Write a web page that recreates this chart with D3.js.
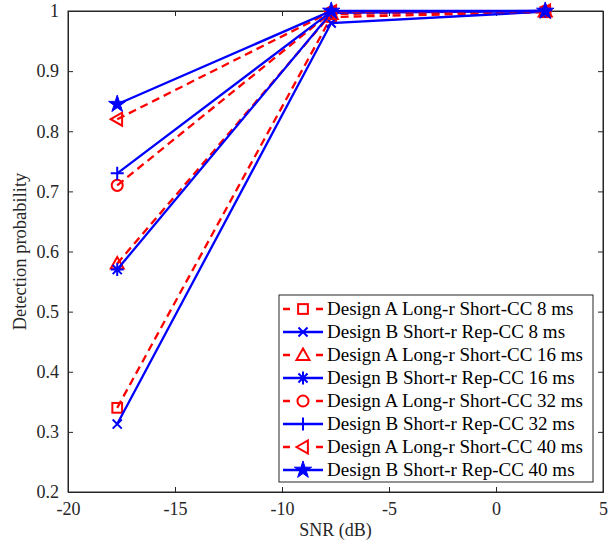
<!DOCTYPE html>
<html>
<head>
<meta charset="utf-8">
<script src="https://cdn.jsdelivr.net/npm/d3@7"></script>
<style>
  body { margin: 0; background: #fff; }
  text { font-family: "Liberation Serif", "Times New Roman", serif; }
</style>
</head>
<body>
<div id="chart"></div>
<script>
// data
var snr = [-17.7, -7.7, 2.3];
var names = [
  "Design A Long-r Short-CC 8 ms",
  "Design B Short-r Rep-CC 8 ms",
  "Design A Long-r Short-CC 16 ms",
  "Design B Short-r Rep-CC 16 ms",
  "Design A Long-r Short-CC 32 ms",
  "Design B Short-r Rep-CC 32 ms",
  "Design A Long-r Short-CC 40 ms",
  "Design B Short-r Rep-CC 40 ms"
];
var a8 = [0.34, 0.99, 0.998];
var b8 = [0.313, 0.98, 0.999];
var a16 = [0.58, 0.995, 0.999];
var b16 = [0.57, 0.997, 1.0];
var a32 = [0.71, 0.998, 1.0];
var b32 = [0.73, 0.999, 1.0];
var a40 = [0.82, 0.999, 1.0];
var b40 = [0.845, 1.0, 1.0];
var markers = ["square", "x", "triUp", "asterisk", "circle", "plus", "triLeft", "star"];
var xTicks = [-20, -15, -10, -5, 0, 5];
var yTicks = [0.2, 0.3, 0.4, 0.5, 0.6, 0.7, 0.8, 0.9, 1];

var seriesVals = [a8, b8, a16, b16, a32, b32, a40, b40];
var series = seriesVals.map(function (v, i) {
  return { name: names[i], vals: v, marker: markers[i], designA: i % 2 === 0 };
});

var margin = { top: 11, right: 13, bottom: 58, left: 68 },
    width = 616 - margin.left - margin.right,
    height = 550 - margin.top - margin.bottom;

var svg = d3.select("#chart").append("svg")
    .attr("width", 616).attr("height", 550);
var g = svg.append("g").attr("transform", "translate(" + margin.left + "," + margin.top + ")");

var x = d3.scaleLinear().domain([-20, 5]).range([0, width]);
var y = d3.scaleLinear().domain([0.2, 1]).range([height, 0]);

// axes box
g.append("rect").attr("width", width).attr("height", height)
  .attr("fill", "none").attr("stroke", "#262626").attr("stroke-width", 1);

var xAxis = g.append("g").attr("transform", "translate(0," + height + ")")
  .call(d3.axisBottom(x).tickValues(xTicks).tickSize(-5).tickPadding(10).tickFormat(d3.format("d")));
var xAxisTop = g.append("g")
  .call(d3.axisTop(x).tickValues(xTicks).tickSize(-5).tickFormat(""));
var yAxis = g.append("g")
  .call(d3.axisLeft(y).tickValues(yTicks).tickSize(-5).tickPadding(9).tickFormat(function (d) { return d3.format("")(+d.toFixed(1)); }));
var yAxisR = g.append("g").attr("transform", "translate(" + width + ",0)")
  .call(d3.axisRight(y).tickValues(yTicks).tickSize(-5).tickFormat(""));
[xAxis, xAxisTop, yAxis, yAxisR].forEach(function (a) {
  a.attr("font-family", null);
  a.select(".domain").attr("stroke", "#262626");
  a.selectAll(".tick line").attr("stroke", "#262626");
  a.selectAll("text").attr("font-size", 18).attr("fill", "#262626");
});
xAxis.selectAll("text").text(function (d) { return d < 0 ? "-" + Math.abs(d) : d; });

svg.append("text").attr("x", margin.left + width / 2).attr("y", 536)
  .attr("text-anchor", "middle").attr("font-size", 18).attr("fill", "#262626").text("SNR (dB)");
svg.append("text").attr("transform", "translate(26," + (margin.top + height / 2) + ") rotate(-90)")
  .attr("text-anchor", "middle").attr("font-size", 18.5).attr("fill", "#262626").text("Detection probability");

function drawMarker(sel, type, color, size) {
  var s = size / 2;
  if (type === "square") {
    sel.append("rect").attr("x", -s * 0.75).attr("y", -s * 0.75).attr("width", s * 1.5).attr("height", s * 1.5)
      .attr("fill", "none").attr("stroke", color).attr("stroke-width", 2);
  } else if (type === "x") {
    sel.append("path").attr("d", "M" + (-s * 0.7) + "," + (-s * 0.7) + "L" + (s * 0.7) + "," + (s * 0.7) +
      "M" + (-s * 0.7) + "," + (s * 0.7) + "L" + (s * 0.7) + "," + (-s * 0.7))
      .attr("stroke", color).attr("stroke-width", 2);
  } else if (type === "plus") {
    sel.append("path").attr("d", "M" + (-s) + ",0L" + s + ",0M0," + (-s) + "L0," + s)
      .attr("stroke", color).attr("stroke-width", 2);
  } else if (type === "asterisk") {
    sel.append("path").attr("d", "M" + (-s) + ",0L" + s + ",0M0," + (-s) + "L0," + s +
      "M" + (-s * 0.7) + "," + (-s * 0.7) + "L" + (s * 0.7) + "," + (s * 0.7) +
      "M" + (-s * 0.7) + "," + (s * 0.7) + "L" + (s * 0.7) + "," + (-s * 0.7))
      .attr("stroke", color).attr("stroke-width", 2);
  } else if (type === "circle") {
    sel.append("circle").attr("r", s * 0.85).attr("fill", "none").attr("stroke", color).attr("stroke-width", 2);
  } else if (type === "triUp") {
    sel.append("path").attr("d", "M0," + (-s) + "L" + s + "," + (s * 0.75) + "L" + (-s) + "," + (s * 0.75) + "Z")
      .attr("fill", "none").attr("stroke", color).attr("stroke-width", 2);
  } else if (type === "triLeft") {
    sel.append("path").attr("d", "M" + (-s) + ",0L" + (s * 0.75) + "," + (-s) + "L" + (s * 0.75) + "," + s + "Z")
      .attr("fill", "none").attr("stroke", color).attr("stroke-width", 2);
  } else if (type === "star") {
    sel.append("path").attr("d", d3.symbol().type(d3.symbolStar).size(size * size * 0.55)())
      .attr("fill", color).attr("stroke", color).attr("stroke-width", 1);
  }
}

var line = d3.line().x(function (d, i) { return x(snr[i]); }).y(function (d) { return y(d); });

series.forEach(function (s) {
  var color = s.designA ? "#ff0000" : "#0000ff";
  g.append("path").datum(s.vals).attr("d", line)
    .attr("fill", "none").attr("stroke", color).attr("stroke-width", 2.3)
    .attr("stroke-dasharray", s.designA ? "8,5" : null);
  s.vals.forEach(function (v, i) {
    var m = g.append("g").attr("transform", "translate(" + x(snr[i]) + "," + y(v) + ")");
    drawMarker(m, s.marker, color, 13);
  });
});

// legend
var lg = svg.append("g").attr("transform", "translate(279,295)");
lg.append("rect").attr("width", 314).attr("height", 187)
  .attr("fill", "#fff").attr("stroke", "#262626").attr("stroke-width", 1);
series.forEach(function (s, i) {
  var color = s.designA ? "#ff0000" : "#0000ff";
  var row = lg.append("g").attr("transform", "translate(0," + (14 + i * 23) + ")");
  if (s.designA) {
    row.append("path").attr("d", "M4,0L11,0M37,0L44,0")
      .attr("stroke", color).attr("stroke-width", 2.3);
  } else {
    row.append("path").attr("d", "M4,0L44,0").attr("stroke", color).attr("stroke-width", 2.3);
  }
  var m = row.append("g").attr("transform", "translate(24,0)");
  drawMarker(m, s.marker, color, 13);
  row.append("text").attr("x", 48).attr("y", 6).attr("font-size", 19).attr("fill", "#000").text(s.name);
});
</script>
</body>
</html>
